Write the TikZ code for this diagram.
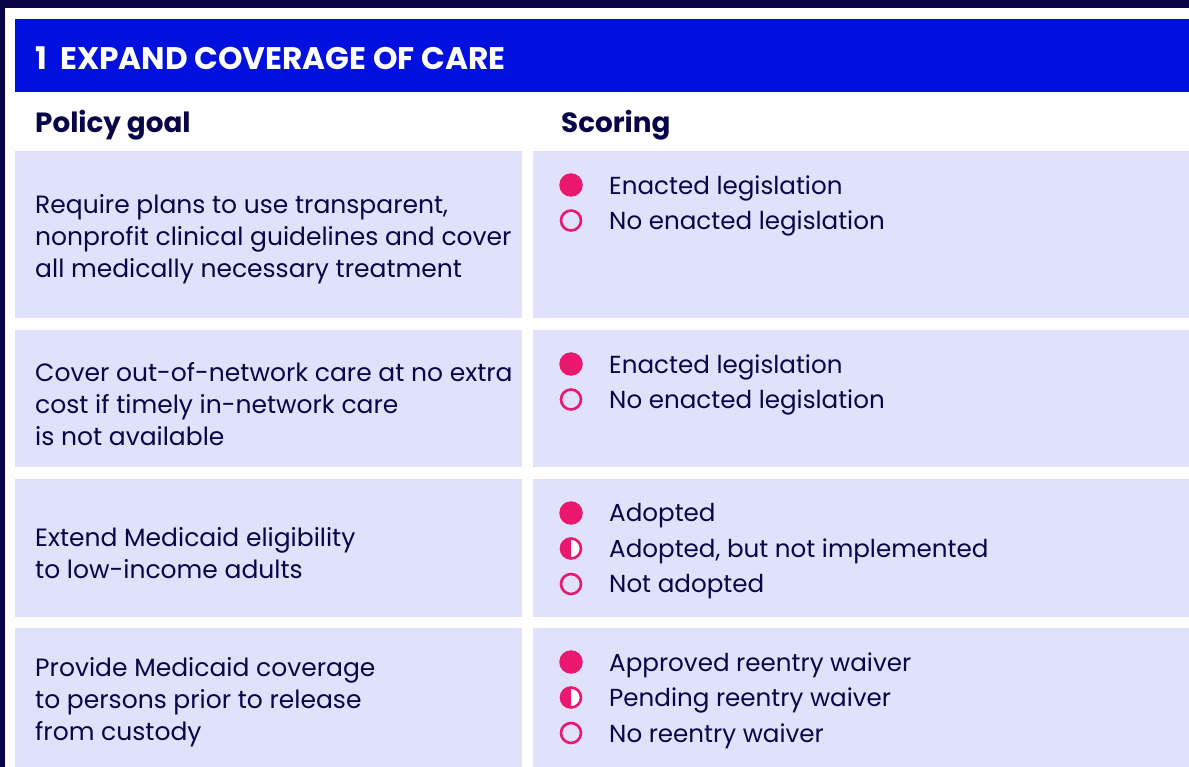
\documentclass[tikz,border=0pt]{standalone}
\usepackage{fontspec}
\setmainfont{Poppins}
\usetikzlibrary{positioning}

\definecolor{navy}{RGB}{8,6,72}
\definecolor{headblue}{RGB}{0,16,222}
\definecolor{rowbg}{RGB}{224,225,250}
\definecolor{dotpink}{RGB}{234,24,110}

\tikzstyle{cell}=[fill=rowbg,inner sep=0pt,anchor=north west]
\tikzstyle{goal}=[text=navy,font=\fontsize{25}{32}\selectfont,align=left,anchor=west,inner sep=0pt]
\tikzstyle{score}=[text=navy,font=\fontsize{24.6}{32}\selectfont,anchor=west,inner sep=0pt]
\tikzstyle{colhead}=[text=navy,font=\fontsize{27.8}{30}\selectfont\bfseries,anchor=west,inner sep=0pt]
\tikzstyle{dotfull}=[circle,fill=dotpink,minimum size=23.5pt,inner sep=0pt]
\tikzstyle{dotnone}=[circle,draw=dotpink,line width=2.6pt,minimum size=20pt,inner sep=0pt]
\tikzstyle{dothalf}=[dotnone,fill=white,path picture={\fill[dotpink] (path picture bounding box.south west) rectangle (path picture bounding box.north);}]

\begin{document}
\begin{tikzpicture}[x=1pt,y=-1pt]
\useasboundingbox (0,0) rectangle (1189,767);
\fill[navy] (0,0) rectangle (1189,8);
\fill[navy] (0,0) rectangle (5,767);

% title bar
\node[fill=headblue,inner sep=0pt,anchor=north west,minimum width=1174pt,minimum height=73pt] (head) at (15,19) {};
\node[text=white,font=\fontsize{31.2}{34}\selectfont\bfseries,anchor=west,inner sep=0pt] (title) at (35,58) {1\ \ EXPAND COVERAGE OF CARE};

\node[colhead] (goalhead) at (35,125) {Policy goal};
\node[colhead] (scorehead) at (561,125) {Scoring};

% row cells
\foreach \i/\top/\h in {1/151/167, 2/330/137, 3/479/138, 4/628/139}{
  \node[cell,minimum width=507pt,minimum height=\h pt] (goal\i) at (15,\top) {};
  \node[cell,minimum width=656pt,minimum height=\h pt] (score\i) at (533,\top) {};
}

% policy goals
\node[goal] (g1) at ([xshift=20pt,yshift=-5pt]goal1.west) {Require plans to use transparent,\\nonprofit clinical guidelines and cover\\all medically necessary treatment};
\node[goal] (g2) at ([xshift=20pt,yshift=-5pt]goal2.west) {Cover out-of-network care at no extra\\cost if timely in-network care\\is not available};
\node[goal] (g3) at ([xshift=20pt,yshift=-5pt]goal3.west) {Extend Medicaid eligibility\\to low-income adults};
\node[goal] (g4) at ([xshift=20pt,yshift=-5pt]goal4.west) {Provide Medicaid coverage\\to persons prior to release\\from custody};

% scoring
\foreach \r/\k/\kind/\txt in {1/0/dotfull/Enacted legislation, 1/1/dotnone/No enacted legislation,
                              2/0/dotfull/Enacted legislation, 2/1/dotnone/No enacted legislation,
                              3/0/dotfull/Adopted, 3/1/dothalf/{Adopted, but not implemented}, 3/2/dotnone/Not adopted,
                              4/0/dotfull/Approved reentry waiver, 4/1/dothalf/Pending reentry waiver, 4/2/dotnone/No reentry waiver}{
  \node[\kind] (dot\r\k) at ([xshift=38pt,yshift={-34pt-35.5pt*\k}]score\r.north west) {};
  \node[score] (s\r\k) at ([xshift=38pt,yshift=-3pt]dot\r\k.center) {\txt};
}
\end{tikzpicture}
\end{document}
